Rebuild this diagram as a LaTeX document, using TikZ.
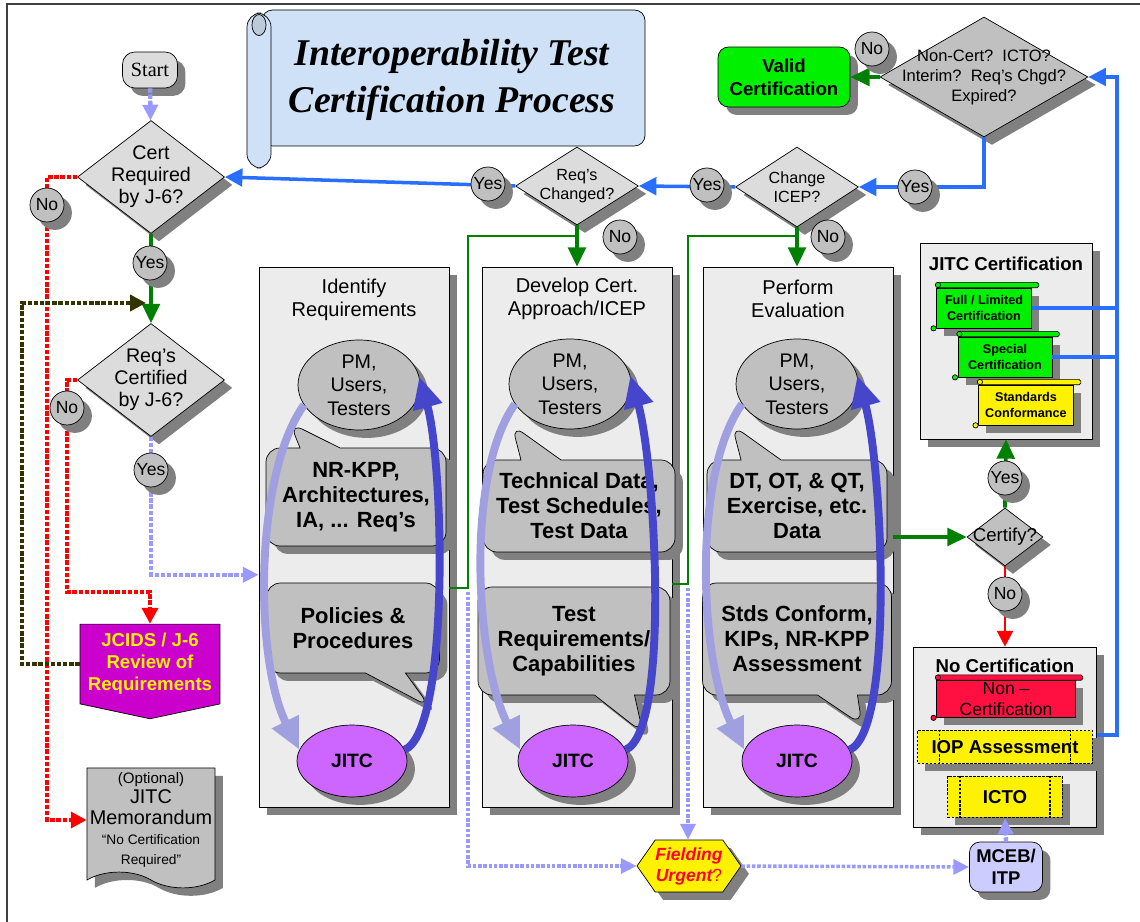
\documentclass[tikz,border=0pt]{standalone}
\usepackage{fontspec}
\setmainfont{Liberation Sans}
\newfontfamily\serifface{Liberation Serif}
\usepackage{xcolor}
\usepackage{tikz}
\usetikzlibrary{shapes.geometric, shapes.misc, shapes.symbols, shapes.callouts, arrows.meta, shadows, positioning, calc}

\definecolor{linkblue}{RGB}{40,110,255}
\definecolor{linkgreen}{RGB}{0,128,0}
\definecolor{linkred}{RGB}{255,0,0}
\definecolor{linklav}{RGB}{153,153,255}
\definecolor{linkolive}{RGB}{51,51,0}
\definecolor{decgray}{RGB}{220,220,220}
\definecolor{midgray}{RGB}{192,192,192}
\definecolor{shadowgray}{RGB}{128,128,128}
\definecolor{colgray}{RGB}{236,236,236}
\definecolor{titleblue}{RGB}{207,225,247}
\definecolor{jcidspurple}{RGB}{204,0,204}
\definecolor{jitcpurple}{RGB}{204,102,255}
\definecolor{certgreen}{RGB}{0,240,0}
\definecolor{noncertred}{RGB}{255,16,64}
\definecolor{mcebblue}{RGB}{204,204,255}
\definecolor{fieldred}{RGB}{255,0,51}
\definecolor{cyclelight}{RGB}{160,160,225}
\definecolor{cycledark}{RGB}{70,70,205}

\begin{document}
\begin{tikzpicture}[x=0.02cm, y=-0.02cm,
    dropshade/.style={drop shadow={shadow xshift=4.5pt, shadow yshift=-4.5pt, fill=shadowgray, opacity=1}},
    decision/.style={diamond, draw, fill=decgray, dropshade, shape aspect=1.3, inner sep=-10pt, align=center, font=\fontsize{11.2}{12.6}\selectfont},
    answer/.style={circle, draw, fill=midgray, dropshade, minimum size=0.68cm, inner sep=0pt, font=\fontsize{10}{11}\selectfont},
    stagebox/.style={draw, fill=colgray, dropshade, minimum width=3.8cm, minimum height=10.8cm, inner sep=0pt},
    panel/.style={draw, fill=colgray, dropshade, inner sep=0pt},
    heading/.style={align=center, font=\fontsize{11.4}{13.2}\selectfont},
    people/.style={ellipse, draw, fill=midgray, dropshade, minimum width=2.44cm, minimum height=1.8cm, inner sep=0pt, align=center, font=\fontsize{11.2}{13.4}\selectfont},
    jitc/.style={ellipse, draw, fill=jitcpurple, dropshade, minimum width=2.2cm, minimum height=1.44cm, font=\bfseries\fontsize{11}{13}\selectfont},
    bubble/.style={rectangle callout, draw, fill=midgray, dropshade, rounded corners=8pt, callout pointer width=0.8cm, inner sep=0pt, align=center, font=\bfseries\fontsize{12.5}{14.2}\selectfont},
    scrollbox/.style={draw, fill=#1, dropshade, inner sep=0pt, align=center, font=\bfseries\fontsize{7.2}{8.6}\selectfont},
    procbox/.style={draw, fill=yellow, dropshade, line width=1pt, dash pattern=on 1.5pt off 0.8pt, inner sep=0pt, font=\bfseries\fontsize{10.6}{12}\selectfont},
    blueline/.style={draw=linkblue, line width=2pt},
    bluearrow/.style={blueline, -{Triangle[length=10pt,width=10pt]}},
    greenline/.style={draw=linkgreen, line width=1.3pt},
    greenarrow/.style={draw=linkgreen, line width=2.2pt, -{Triangle[length=11pt,width=10pt]}},
    redarrow/.style={draw=linkred, line width=1.4pt, -{Triangle[length=9pt,width=9pt]}},
    reddots/.style={draw=linkred, line width=2.5pt, dash pattern=on 2.5pt off 1pt, -{Triangle[length=9pt,width=9pt]}},
    olivedots/.style={draw=linkolive, line width=2.5pt, dash pattern=on 2.5pt off 1pt, -{Triangle[length=9pt,width=9pt]}},
    lavdots/.style={draw=linklav, line width=2.5pt, dash pattern=on 2.5pt off 1pt, -{Triangle[length=9pt,width=8.5pt]}},
    lavthin/.style={draw=linklav, line width=2pt, dash pattern=on 2pt off 1pt, -{Triangle[length=9pt,width=8.5pt]}},
    cycleleft/.style={draw=cyclelight, line width=4.5pt, -{Triangle[length=18pt,width=16pt]}},
    cycleright/.style={draw=cycledark, line width=4.5pt, -{Triangle[length=18pt,width=16pt]}}
]
    \useasboundingbox (0,0) rectangle (1140,922);
    \draw[line width=0.9pt, black!75] (7,922) -- (7,4) -- (1140,4);

    % title scroll
    \draw[fill=titleblue, rounded corners=6pt] (262,10) rectangle (645,146);
    \draw[fill=titleblue, rounded corners=8pt] (247,13) rectangle (271,168);
    \draw[fill=titleblue!75!gray] (259,25) ellipse (4pt and 6pt);
    \node[align=center, font=\serifface\bfseries\itshape\fontsize{21.5}{27}\selectfont] (title) at (452,80) {Interoperability Test\\Certification Process};

    % the three stages
    \node[stagebox] (colA) at (354,537) {};
    \node[stagebox] (colB) at (577,537) {};
    \node[stagebox] (colC) at (798,537) {};
    \node[heading] (ttlA) at (354,300) {Identify\\Requirements};
    \node[heading] (ttlB) at (577,299) {Develop Cert.\\Approach/ICEP};
    \node[heading] (ttlC) at (798,299) {Perform\\Evaluation};

    \node[bubble, minimum width=3.6cm, minimum height=1.96cm, callout absolute pointer={(290,423)}] (dataA) at (356,497) {NR-KPP,\\Architectures,\\IA, ... Req’s};
    \node[bubble, minimum width=3.46cm, minimum height=1.8cm, callout absolute pointer={(430,707)}] (rulesA) at (353,628) {Policies \&\\Procedures};
    \node[bubble, minimum width=3.84cm, minimum height=1.84cm, callout absolute pointer={(512,425)}] (dataB) at (579,506) {Technical Data,\\Test Schedules,\\Test Data};
    \node[bubble, minimum width=3.84cm, minimum height=2.16cm, callout absolute pointer={(643,733)}] (rulesB) at (574,641) {Test\\Requirements/\\Capabilities};
    \node[bubble, minimum width=3.6cm, minimum height=1.84cm, callout absolute pointer={(732,425)}] (dataC) at (797,506) {DT, OT, \& QT,\\Exercise, etc.\\Data};
    \node[bubble, minimum width=3.78cm, minimum height=2.24cm, callout absolute pointer={(862,725)}] (rulesC) at (797,639) {Stds Conform,\\KIPs, NR-KPP\\Assessment};

    \node[people] (pmA) at (359,385) {PM,\\Users,\\Testers};
    \node[people] (pmB) at (570,384) {PM,\\Users,\\Testers};
    \node[people] (pmC) at (797,384) {PM,\\Users,\\Testers};
    \node[jitc] (jitcA) at (352,761) {JITC};
    \node[jitc] (jitcB) at (573,761) {JITC};
    \node[jitc] (jitcC) at (797,761) {JITC};

    \foreach \k in {A,B,C} {
        \draw[cycleleft] (pm\k.200) .. controls +(-50,70) and +(-45,-90) .. (jitc\k.168);
        \draw[cycleright] (jitc\k.12) .. controls +(45,-20) and +(25,90) .. (pm\k.8);
    }

    % left column
    \node[draw, fill=decgray, rounded corners=7pt, dropshade, minimum width=1.1cm, minimum height=0.72cm, inner sep=0pt, font=\serifface\fontsize{11.5}{13}\selectfont] (start) at (150,70) {Start};
    \node[decision, minimum width=2.94cm, minimum height=2.26cm] (cert) at (151,177) {Cert\\Required\\by J-6?};
    \node[decision, minimum width=2.94cm, minimum height=2.26cm] (rq) at (151,380) {Req’s\\Certified\\by J-6?};
    \node[signal, signal to=south, signal pointer angle=156, draw, fill=jcidspurple, minimum width=2.8cm, minimum height=1.86cm, inner sep=0pt, align=center, text=yellow, font=\bfseries\fontsize{10.6}{12.6}\selectfont] (jcids) at (150,664) {JCIDS / J-6\\Review of\\Requirements};
    \node[tape, tape bend top=none, tape bend bottom=out and in, tape bend height=9pt, draw, fill=midgray, dropshade, minimum width=2.56cm, minimum height=2.4cm, inner sep=0pt, align=center, font=\fontsize{11.3}{11.5}\selectfont] (memo) at (151,820) {{\fontsize{8.6}{10}\selectfont (Optional)}\\JITC\\Memorandum\\{\fontsize{7.8}{9}\selectfont “No Certification}\\{\fontsize{7.8}{9}\selectfont Required”}};

    % top row
    \node[decision, shape aspect=1.58, minimum width=2.46cm, minimum height=1.56cm, font=\fontsize{9.2}{11}\selectfont] (rc) at (577,186) {Req’s\\Changed?};
    \node[decision, shape aspect=1.54, minimum width=2.46cm, minimum height=1.6cm, font=\fontsize{9.2}{11}\selectfont] (chg) at (797,187) {Change\\ICEP?};
    \node[decision, fill=midgray, shape aspect=1.73, minimum width=4.16cm, minimum height=2.4cm, font=\fontsize{9.4}{11.4}\selectfont] (nc) at (984,77) {Non-Cert?~~ICTO?\\Interim?~~Req’s Chgd?\\Expired?};
    \node[draw, fill=certgreen, rounded corners=6pt, dropshade, minimum width=2.64cm, minimum height=1.2cm, align=center, font=\bfseries\fontsize{10.6}{13}\selectfont] (valid) at (784,77) {Valid\\Certification};

    % right column
    \node[decision, fill=midgray, minimum width=1.52cm, minimum height=1.16cm, font=\fontsize{10.6}{12}\selectfont] (certify) at (1005,537) {Certify?};
    \node[panel, minimum width=3.44cm, minimum height=3.92cm] (jcbox) at (1006,341) {};
    \node[font=\bfseries\fontsize{10.6}{12}\selectfont] (jctitle) at (1006,264) {JITC Certification};
    \node[scrollbox=certgreen, minimum width=1.9cm, minimum height=0.8cm] (full) at (984,308) {Full / Limited\\Certification};
    \node[scrollbox=certgreen, minimum width=1.88cm, minimum height=0.8cm] (special) at (1005,357) {Special\\Certification};
    \node[scrollbox=yellow, minimum width=1.9cm, minimum height=0.8cm] (stds) at (1026,405) {Standards\\Conformance};

    \node[panel, minimum width=3.66cm, minimum height=3.6cm] (ncbox) at (1005,737) {};
    \node[font=\bfseries\fontsize{10.6}{12}\selectfont] (nctitle) at (1005,666) {No Certification};
    \node[scrollbox=noncertred, minimum width=2.78cm, minimum height=0.74cm, font=\fontsize{10}{11.5}\selectfont] (noncert) at (1006,699) {Non –\\Certification};
    \node[procbox, minimum width=3.5cm, minimum height=0.66cm] (iop) at (1005,747) {IOP Assessment};
    \node[procbox, minimum width=2.3cm, minimum height=0.82cm] (icto) at (1005,797) {ICTO};
    \foreach \s/\clr in {full/certgreen, special/certgreen, stds/yellow, noncert/noncertred} {
        \draw[fill=\clr, rounded corners=1pt] ([yshift=3pt]\s.north west) rectangle ([xshift=4pt]\s.north east);
        \draw[fill=\clr] ([xshift=1pt, yshift=1.5pt]\s.north west) circle (1.5pt);
        \draw[fill=\clr] ([xshift=-1.5pt]\s.south west) circle (1.5pt);
    }
    \draw[line width=1pt, dash pattern=on 1.5pt off 0.8pt] ([xshift=13pt]iop.north west) -- ([xshift=13pt]iop.south west);
    \draw[line width=1pt, dash pattern=on 1.5pt off 0.8pt] ([xshift=-13pt]iop.north east) -- ([xshift=-13pt]iop.south east);
    \draw[line width=1pt, dash pattern=on 1.5pt off 0.8pt] ([xshift=7.5pt]icto.north west) -- ([xshift=7.5pt]icto.south west);
    \draw[line width=1pt, dash pattern=on 1.5pt off 0.8pt] ([xshift=-7.5pt]icto.north east) -- ([xshift=-7.5pt]icto.south east);

    \node[draw, fill=mcebblue, rounded corners=6pt, dropshade, minimum width=1.46cm, minimum height=1.0cm, align=center, font=\bfseries\fontsize{10.5}{12.5}\selectfont] (mceb) at (1006,867) {MCEB/\\ITP};
    \node[signal, signal to=west and east, signal pointer angle=110, draw, fill=yellow, dropshade, minimum width=2.08cm, minimum height=1.04cm, inner sep=0pt, align=center, text=fieldred, font=\bfseries\itshape\fontsize{10}{12}\selectfont] (field) at (689,866) {Fielding\\Urgent{\mdseries\upshape ?}};

    % bends
    \coordinate (jbend) at (150,592);
    \coordinate (ocorner) at (22,303);
    \coordinate (ojoin) at (146,303);
    \coordinate (gA) at (468,588);
    \coordinate (gB) at (577,236);
    \coordinate (gC) at (688,584);
    \coordinate (gD) at (797,236);
    \coordinate (rail) at (1117,77);
    \coordinate (railbot) at (1117,735);

    % connectors
    \draw[lavdots] (start) -- (cert);
    \draw[greenarrow] (cert.south) -- (rq.north);
    \draw[reddots] (cert.west) -| (47,205) |- (memo.west);
    \draw[reddots] (rq.west) -| (67,408) |- (jbend) -- (jcids.north);
    \draw[olivedots] (jcids.west) -| (ocorner) -- (ojoin);
    \draw[lavdots] (rq.south) |- ([yshift=-21.5pt]colA.west);

    \draw[bluearrow] (nc.south) |- (chg.east);
    \draw[bluearrow] (chg.west) -- (rc.east);
    \draw[bluearrow] (rc.west) -- (cert.east);
    \draw[greenarrow] (nc.west) -- (valid.east);
    \draw[greenarrow] (rc.south) -- (colB.north);
    \draw[greenarrow] (chg.south) -- (chg.south |- colC.north);
    \draw[greenline] (colA.east |- gA) -- (gA) |- (gB);
    \draw[greenline] (colB.east |- gC) -- (gC) |- (gD);
    \draw[greenarrow] (colC.east) -- (certify.west);
    \draw[greenarrow] (certify.north) -- (jcbox.south);
    \draw[redarrow] (certify.south) -- (ncbox.north);
    \draw[blueline] (full.east) -- (full.east -| rail);
    \draw[blueline] (special.east) -- (special.east -| rail);
    \draw[bluearrow] (ncbox.east |- railbot) -- (railbot) |- (nc.east);

    \draw[lavthin] ([yshift=-2pt]gA) |- (field.west);
    \draw[lavthin] ([yshift=-2pt]gC) -- (gC |- field.north);
    \draw[lavthin] (field.east) -- (mceb.west);
    \draw[lavdots] (mceb.north) -- (icto.south);

    % yes / no
    \node[answer] (no1) at (47,205) {No};
    \node[answer] (yes1) at (150,263) {Yes};
    \node[answer] (no2) at (67,408) {No};
    \node[answer] (yes2) at (151,470) {Yes};
    \node[answer] (yes3) at (488,184) {Yes};
    \node[answer] (no3) at (620,237) {No};
    \node[answer] (yes4) at (707,185) {Yes};
    \node[answer] (no4) at (828,237) {No};
    \node[answer] (yes5) at (915,187) {Yes};
    \node[answer] (no5) at (872,49) {No};
    \node[answer] (yes6) at (1005,478) {Yes};
    \node[answer] (no6) at (1005,594) {No};
\end{tikzpicture}
\end{document}
